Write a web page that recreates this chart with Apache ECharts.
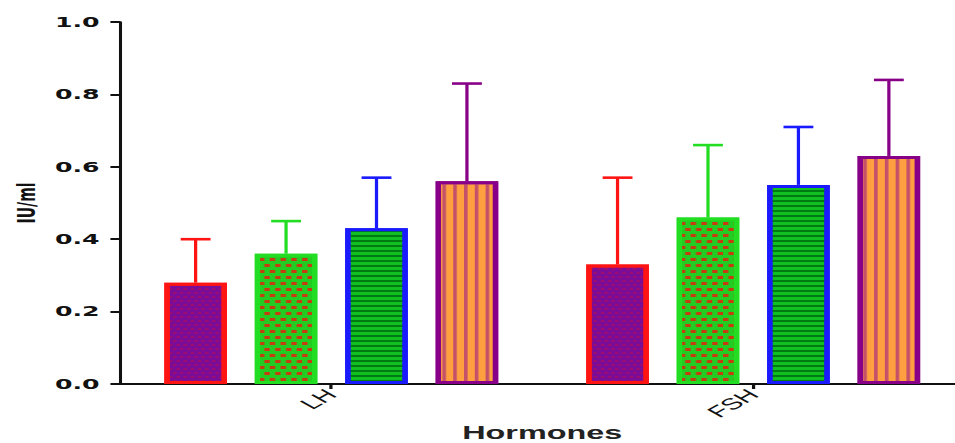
<!DOCTYPE html>
<html>
<head>
<meta charset="utf-8">
<script src="https://cdn.jsdelivr.net/npm/echarts@6/dist/echarts.min.js"></script>
<style>
html,body{margin:0;padding:0;background:#fff;}
#wrap{width:955px;height:443px;overflow:hidden;position:relative;}
#c{width:531px;height:443px;transform:scaleX(1.79849);transform-origin:0 0;}
</style>
</head>
<body>
<div id="wrap"><div id="c"></div></div>
<script>
// ---- data ----
var categories = ['LH', 'FSH'];
var yTicks = [0, 0.2, 0.4, 0.6, 0.8, 1.0];
var groupNames = ['Group 1', 'Group 2', 'Group 3', 'Group 4'];
var meanG1 = [0.28, 0.33];
var meanG2 = [0.36, 0.46];
var meanG3 = [0.43, 0.55];
var meanG4 = [0.56, 0.63];
var upperG1 = [0.40, 0.57];
var upperG2 = [0.45, 0.66];
var upperG3 = [0.57, 0.71];
var upperG4 = [0.83, 0.84];

// ---- styles ----
var BAR_W = 34.8;
var BAR_GAP = 0.445;
var styles = [
  {fill:'#7a0c98', border:'#ff1414',
   decal:{symbol:'rect', symbolSize:1, color:'rgba(190,10,70,0.45)', dashArrayX:[[2,2],[0,2,2,0]], dashArrayY:[2,1.5]}},
  {fill:'#22cc22', border:'#22dd22',
   decal:{symbol:'rect', symbolSize:1, color:'#c83a10', dashArrayX:[[3,2.6],[0,2.8,3,0]], dashArrayY:[2.6,2.6]}},
  {fill:'#10c020', border:'#1a1aff',
   decal:{symbol:'rect', symbolSize:1, color:'#007a12', dashArrayX:[1,0], dashArrayY:[1.6,2.4]}},
  {fill:'#ffa040', border:'#880088',
   decal:{symbol:'rect', symbolSize:1, color:'#c4506a', dashArrayX:[1.5,3.5], dashArrayY:[1,0]}}
];

var means = [meanG1, meanG2, meanG3, meanG4];
var uppers = [upperG1, upperG2, upperG3, upperG4];

var series = [];
means.forEach(function (m, i) {
  series.push({
    type: 'bar',
    name: groupNames[i],
    data: m,
    barWidth: BAR_W,
    barGap: (BAR_GAP * 100) + '%',
    z: 3,
    itemStyle: {
      color: styles[i].fill,
      borderColor: styles[i].border,
      borderWidth: 3,
      decal: styles[i].decal
    }
  });
});

var n = means.length;
means.forEach(function (m, i) {
  var d = m.map(function (v, k) { return [k, v, uppers[i][k]]; });
  series.push({
    type: 'custom',
    name: groupNames[i] + ' err',
    data: d,
    z: 2,
    renderItem: function (params, api) {
      var c = api.coord([api.value(0), api.value(1)]);
      var u = api.coord([api.value(0), api.value(2)]);
      var step = BAR_W * (1 + BAR_GAP);
      var x = c[0] + (i - (n - 1) / 2) * step;
      var col = styles[i].border;
      return {
        type: 'group',
        children: [
          {type:'line', shape:{x1:x, y1:c[1], x2:x, y2:u[1]}, style:{stroke:col, lineWidth:1.8}},
          {type:'line', shape:{x1:x - 8.3, y1:u[1], x2:x + 8.3, y2:u[1]}, style:{stroke:col, lineWidth:2.6}}
        ]
      };
    }
  });
});

var chart = echarts.init(document.getElementById('c'), null, {renderer: 'svg'});
chart.setOption({
  animation: false,
  backgroundColor: '#fff',
  grid: {left: 66.9, right: -5.1, top: 22, bottom: 59, containLabel: false, outerBoundsMode: 'none'},
  xAxis: {
    type: 'category',
    data: categories,
    name: 'Hormones',
    nameLocation: 'middle',
    nameGap: 40,
    nameMoveOverlap: false,
    nameTextStyle: {fontFamily: 'Liberation Sans', fontWeight: 'bold', fontSize: 18, color: '#222'},
    axisLine: {lineStyle: {color: '#111', width: 2}},
    axisTick: {show: true, alignWithLabel: true, length: 5, lineStyle: {color: '#111', width: 1.8}},
    axisLabel: {rotate: 45, margin: 8, fontFamily: 'Liberation Sans', fontSize: 16, color: '#111'},
    splitLine: {show: false}
  },
  yAxis: {
    type: 'value',
    min: 0, max: 1, interval: 0.2,
    name: 'IU/ml',
    nameLocation: 'middle',
    nameGap: 45,
    nameRotate: 90,
    nameMoveOverlap: false,
    nameTextStyle: {fontFamily: 'DejaVu Sans', fontWeight: 'bold', fontSize: 14, color: '#111'},
    axisLine: {show: true, lineStyle: {color: '#111', width: 1.7}},
    axisTick: {show: true, length: 5.5, lineStyle: {color: '#111', width: 2}},
    axisLabel: {
      margin: 11.5, fontFamily: 'DejaVu Sans', fontWeight: 'bold', fontSize: 14, color: '#111',
      formatter: function (v) {
        var t = yTicks.filter(function (y) { return Math.abs(y - v) < 1e-9; });
        return t.length ? t[0].toFixed(1) : '';
      }
    },
    splitLine: {show: false}
  },
  series: series
});
</script>
</body>
</html>
